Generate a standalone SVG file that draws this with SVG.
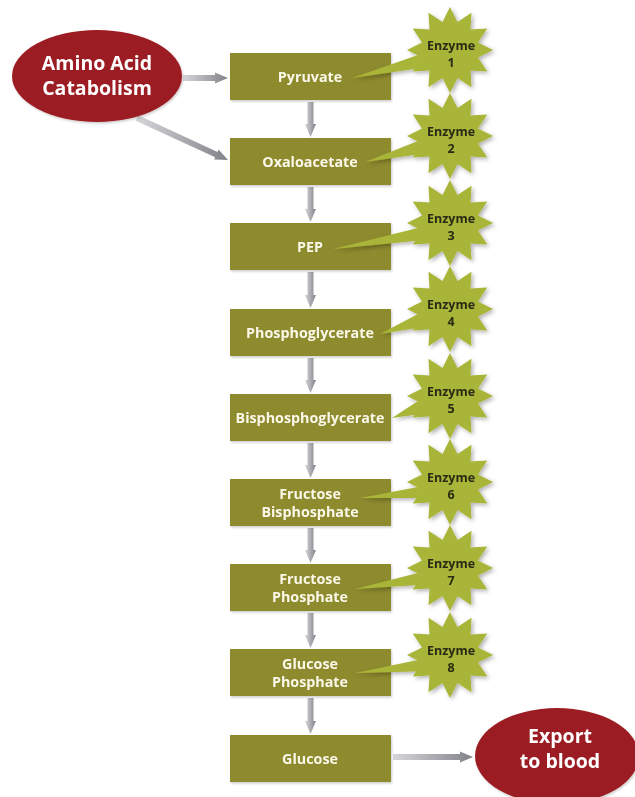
<svg xmlns="http://www.w3.org/2000/svg" xmlns:xlink="http://www.w3.org/1999/xlink" width="635" height="797" viewBox="0 0 635 797">
<defs>
<style>
.box{fill:#8e8a2d;}
.oval{fill:#9b1c21;}
.star{fill:#a9b537;}
.bt{font-family:"Open Sans","Liberation Sans",sans-serif;font-weight:700;font-size:14.3px;fill:#fbf8ea;text-anchor:middle;}
.ot{font-family:"Open Sans","Liberation Sans",sans-serif;font-weight:700;font-size:19.5px;fill:#ffffff;text-anchor:middle;}
.et{font-family:"Open Sans","Liberation Sans",sans-serif;font-weight:700;font-size:12.5px;fill:#2a2a12;text-anchor:middle;}
.arr{fill:url(#ag);}
</style>
<linearGradient id="ag" x1="0" y1="0" x2="1" y2="0">
<stop offset="0" stop-color="#d6d6da"/>
<stop offset="1" stop-color="#82828a"/>
</linearGradient>
<filter id="sh" x="-20%" y="-20%" width="140%" height="140%">
<feDropShadow dx="2" dy="2" stdDeviation="2" flood-color="#000" flood-opacity="0.3"/>
</filter>
<filter id="sh2" x="-10%" y="-10%" width="120%" height="130%">
<feDropShadow dx="1" dy="1.5" stdDeviation="1.2" flood-color="#000" flood-opacity="0.2"/>
</filter>
<path id="st" d="M0,-43 L7.51,-28.01 L21.5,-37.24 L20.51,-20.51 L37.24,-21.5 L28.01,-7.51 L43,0 L28.01,7.51 L37.24,21.5 L20.51,20.51 L21.5,37.24 L7.51,28.01 L0,43 L-7.51,28.01 L-21.5,37.24 L-20.51,20.51 L-37.24,21.5 L-28.01,7.51 L-43,0 L-28.01,-7.51 L-37.24,-21.5 L-20.51,-20.51 L-21.5,-37.24 L-7.51,-28.01 Z"/>
</defs>
<rect width="635" height="797" fill="#ffffff"/>

<g id="connectors">
<path class="arr" d="M183,75 H215 V72.5 L228,78 L215,83.5 V81 H183 Z"/>
<path class="arr" d="M135.7,120.7 L215.15,157.3 L214.1,159.6 L228,160 L218.6,149.6 L217.5,151.9 L138.3,115.3 Z"/>
<path class="arr" d="M307.5,102 H313.5 V124 H316 L310.5,137 L305,124 H307.5 Z"/>
<path class="arr" d="M307.5,187 H313.5 V209 H316 L310.5,222 L305,209 H307.5 Z"/>
<path class="arr" d="M307.5,272 H313.5 V295 H316 L310.5,308 L305,295 H307.5 Z"/>
<path class="arr" d="M307.5,358 H313.5 V380 H316 L310.5,393 L305,380 H307.5 Z"/>
<path class="arr" d="M307.5,443 H313.5 V465 H316 L310.5,478 L305,465 H307.5 Z"/>
<path class="arr" d="M307.5,528 H313.5 V550 H316 L310.5,563 L305,550 H307.5 Z"/>
<path class="arr" d="M307.5,613 H313.5 V635 H316 L310.5,648 L305,635 H307.5 Z"/>
<path class="arr" d="M307.5,698 H313.5 V721 H316 L310.5,734 L305,721 H307.5 Z"/>
<path class="arr" d="M393,754 H460 V751.5 L473,757 L460,762.5 V760 H393 Z"/>
</g>

<g id="amino" filter="url(#sh2)">
<ellipse class="oval" cx="97" cy="76" rx="85" ry="46"/>
<text class="ot" x="97" y="70">Amino Acid</text>
<text class="ot" x="97" y="95">Catabolism</text>
</g>

<g id="export" filter="url(#sh2)">
<ellipse class="oval" cx="557" cy="756" rx="82" ry="48"/>
<text class="ot" x="560" y="743">Export</text>
<text class="ot" x="560" y="768">to blood</text>
</g>

<g id="pyruvate" filter="url(#sh2)"><rect class="box" x="230" y="53" width="161" height="47"/><text class="bt" x="310" y="81.5">Pyruvate</text></g>
<g id="oxaloacetate" filter="url(#sh2)"><rect class="box" x="230" y="138" width="161" height="47"/><text class="bt" x="310" y="166.5">Oxaloacetate</text></g>
<g id="pep" filter="url(#sh2)"><rect class="box" x="230" y="223" width="161" height="47"/><text class="bt" x="310" y="251.5">PEP</text></g>
<g id="phosphoglycerate" filter="url(#sh2)"><rect class="box" x="230" y="309" width="161" height="47"/><text class="bt" x="310" y="337.5">Phosphoglycerate</text></g>
<g id="bisphosphoglycerate" filter="url(#sh2)"><rect class="box" x="230" y="394" width="161" height="47"/><text class="bt" x="310" y="422.5">Bisphosphoglycerate</text></g>
<g id="fructose-bisphosphate" filter="url(#sh2)"><rect class="box" x="230" y="479" width="161" height="47"/><text class="bt" x="310" y="499">Fructose</text><text class="bt" x="310" y="517">Bisphosphate</text></g>
<g id="fructose-phosphate" filter="url(#sh2)"><rect class="box" x="230" y="564" width="161" height="47"/><text class="bt" x="310" y="584">Fructose</text><text class="bt" x="310" y="602">Phosphate</text></g>
<g id="glucose-phosphate" filter="url(#sh2)"><rect class="box" x="230" y="649" width="161" height="47"/><text class="bt" x="310" y="669">Glucose</text><text class="bt" x="310" y="687">Phosphate</text></g>
<g id="glucose" filter="url(#sh2)"><rect class="box" x="230" y="735" width="161" height="47"/><text class="bt" x="310" y="763.5">Glucose</text></g>

<g id="enzyme1" filter="url(#sh)"><polygon class="star" points="352,78 418,55 435,66"/><use href="#st" xlink:href="#st" class="star" x="450" y="50"/><text class="et" x="451" y="50">Enzyme</text><text class="et" x="451" y="67">1</text></g>
<g id="enzyme2" filter="url(#sh)"><polygon class="star" points="365,162 418,141 435,152"/><use href="#st" xlink:href="#st" class="star" x="450" y="136"/><text class="et" x="451" y="136">Enzyme</text><text class="et" x="451" y="153">2</text></g>
<g id="enzyme3" filter="url(#sh)"><polygon class="star" points="333,249 418,228 435,239"/><use href="#st" xlink:href="#st" class="star" x="450" y="223"/><text class="et" x="451" y="223">Enzyme</text><text class="et" x="451" y="240">3</text></g>
<g id="enzyme4" filter="url(#sh)"><polygon class="star" points="380,334 418,314 435,325"/><use href="#st" xlink:href="#st" class="star" x="450" y="309"/><text class="et" x="451" y="309">Enzyme</text><text class="et" x="451" y="326">4</text></g>
<g id="enzyme5" filter="url(#sh)"><polygon class="star" points="392,418 418,401 435,412"/><use href="#st" xlink:href="#st" class="star" x="450" y="396"/><text class="et" x="451" y="396">Enzyme</text><text class="et" x="451" y="413">5</text></g>
<g id="enzyme6" filter="url(#sh)"><polygon class="star" points="360,498 418,487 435,498"/><use href="#st" xlink:href="#st" class="star" x="450" y="482"/><text class="et" x="451" y="482">Enzyme</text><text class="et" x="451" y="499">6</text></g>
<g id="enzyme7" filter="url(#sh)"><polygon class="star" points="355,589 418,573 435,584"/><use href="#st" xlink:href="#st" class="star" x="450" y="568"/><text class="et" x="451" y="568">Enzyme</text><text class="et" x="451" y="585">7</text></g>
<g id="enzyme8" filter="url(#sh)"><polygon class="star" points="355,673 418,660 435,671"/><use href="#st" xlink:href="#st" class="star" x="450" y="655"/><text class="et" x="451" y="655">Enzyme</text><text class="et" x="451" y="672">8</text></g>
</svg>
